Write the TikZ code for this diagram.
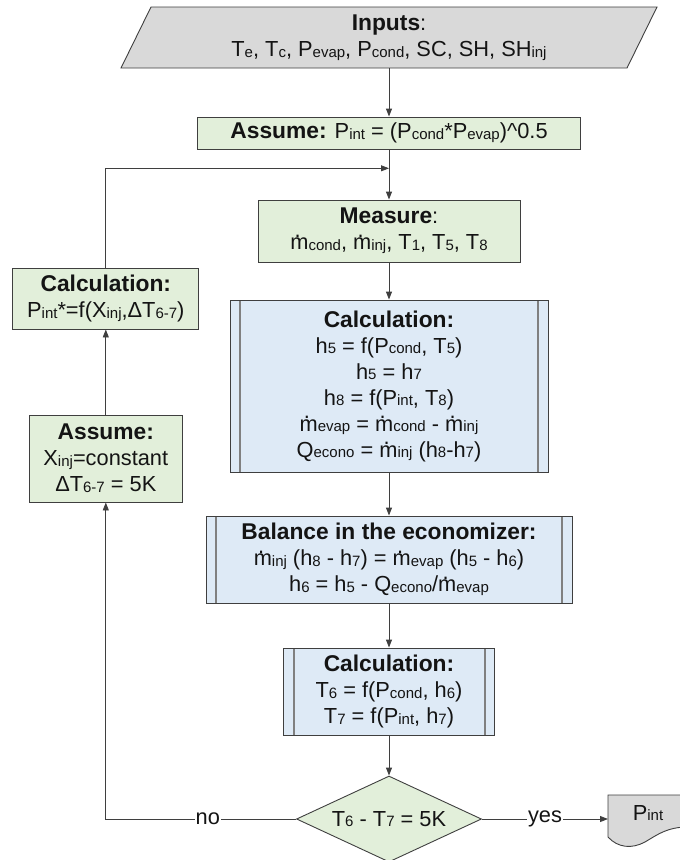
\documentclass[tikz,border=0pt]{standalone}
\usepackage{fontspec}
\setmainfont{Liberation Sans}
\usetikzlibrary{shapes.geometric,arrows.meta}
\definecolor{gfill}{HTML}{E2EFDA}
\definecolor{bfill}{HTML}{DEEAF6}
\definecolor{grayfill}{HTML}{D9D9D9}
\definecolor{edgec}{HTML}{3F3F3F}
\definecolor{procgray}{HTML}{808080}
\definecolor{txtc}{HTML}{141414}
\newcommand\lo[1]{\raisebox{-0.8pt}{\fontsize{15}{15}\selectfont #1}}
\newcommand\mdt{\leavevmode\rlap{\kern0.2em\raisebox{0.58em}{.}}m}
\newcommand\fs{\fontsize{21.8}{26}\selectfont}
\newcommand\hd[1]{{\fontsize{22.8}{26}\selectfont\bfseries #1}}
\begin{document}
\begin{tikzpicture}[x=1pt,y=-1pt,
  box/.style={draw=edgec,line width=0.9pt,align=center,font=\fs,text=txtc,inner sep=0pt},
  gbox/.style={box,fill=gfill},
  pbox/.style={box,fill=bfill,path picture={
     \draw[procgray,line width=2pt] ([xshift=10pt]path picture bounding box.north west) -- ([xshift=10pt]path picture bounding box.south west);
     \draw[procgray,line width=2pt] ([xshift=-10pt]path picture bounding box.north east) -- ([xshift=-10pt]path picture bounding box.south east);}},
  conn/.style={draw=edgec,line width=0.9pt},
  arr/.style={conn,-{Triangle[length=8pt,width=6pt]}},
  lab/.style={fill=white,font=\fs,text=txtc,inner sep=1pt}]
\useasboundingbox (0,0) rectangle (680,860);
\clip (0,0) rectangle (680,860);
% input parallelogram
\filldraw[fill=grayfill,draw=edgec,line width=0.9pt] (121,68) -- (151,7) -- (657,7) -- (627,68) -- cycle;
\node[font=\fs,text=txtc,align=center,inner sep=0pt,minimum width=506,minimum height=61] (in) at (389,37.5)
  {\hd{Inputs}:\\T\lo{e}, T\lo{c}, P\lo{evap}, P\lo{cond}, SC, SH, SH\lo{inj}};
\node[gbox,minimum width=383,minimum height=32] (as) at (389,133)
  {\hd{Assume:} P\lo{int} = (P\lo{cond}*P\lo{evap})\textasciicircum0.5};
\node[gbox,minimum width=262,minimum height=62] (me) at (389,231)
  {\hd{Measure}:\\\mdt\lo{cond}, \mdt\lo{inj}, T\lo{1}, T\lo{5}, T\lo{8}};
\node[pbox,minimum width=318,minimum height=172] (c1) at (389,386)
  {\hd{Calculation:}\\h\lo{5} = f(P\lo{cond}, T\lo{5})\\h\lo{5} = h\lo{7}\\h\lo{8} = f(P\lo{int}, T\lo{8})\\\mdt\lo{evap} = \mdt\lo{cond} - \mdt\lo{inj}\\Q\lo{econo} = \mdt\lo{inj} (h\lo{8}-h\lo{7})};
\node[pbox,minimum width=366,minimum height=87] (ba) at (389,559.5)
  {\hd{Balance in the economizer:}\\\mdt\lo{inj} (h\lo{8} - h\lo{7}) = \mdt\lo{evap} (h\lo{5} - h\lo{6})\\h\lo{6} = h\lo{5} - Q\lo{econo}/\mdt\lo{evap}};
\node[pbox,minimum width=211,minimum height=87] (c2) at (389,691.5)
  {\hd{Calculation:}\\T\lo{6} = f(P\lo{cond}, h\lo{6})\\T\lo{7} = f(P\lo{int}, h\lo{7})};
\node[gbox,shape=diamond,aspect=2.15,minimum width=185,minimum height=86] (di) at (389,819)
  {T\lo{6} - T\lo{7} = 5K};
\node[gbox,minimum width=186,minimum height=61] (lc) at (105.8,298.5)
  {\hd{Calculation:}\\P\lo{int}*=f(X\lo{inj},ΔT\lo{6-7})};
\node[gbox,minimum width=153,minimum height=87] (la) at (105.8,458.5)
  {\hd{Assume:}\\X\lo{inj}=constant\\ΔT\lo{6-7} = 5K};
% output document
\filldraw[fill=grayfill,draw=edgec,line width=0.9pt] (608,795) -- (700,795) -- (700,828)
  .. controls (672,824) and (660,833) .. (645,842)
  .. controls (632,849) and (618,848) .. (608,837) -- cycle;
\coordinate (docin) at (608,819);
\node[font=\fs,text=txtc,inner sep=0pt] (out) at (648,813) {P\lo{int}};
\coordinate (join) at (389,168.3);
% connectors
\draw[arr] (in.south) -- (as.north);
\draw[arr] (as.south) -- (me.north);
\draw[arr] (lc.north) |- (join);
\draw[arr] (me.south) -- (c1.north);
\draw[arr] (c1.south) -- (ba.north);
\draw[arr] (ba.south) -- (c2.north);
\draw[arr] (c2.south) -- (di.north);
\draw[arr] (di.west) -| node[lab,pos=0.232]{no} (la.south);
\draw[arr] (la.north) -- (lc.south);
\draw[arr] (di.east) -- node[lab]{yes} (docin);
\end{tikzpicture}
\end{document}
